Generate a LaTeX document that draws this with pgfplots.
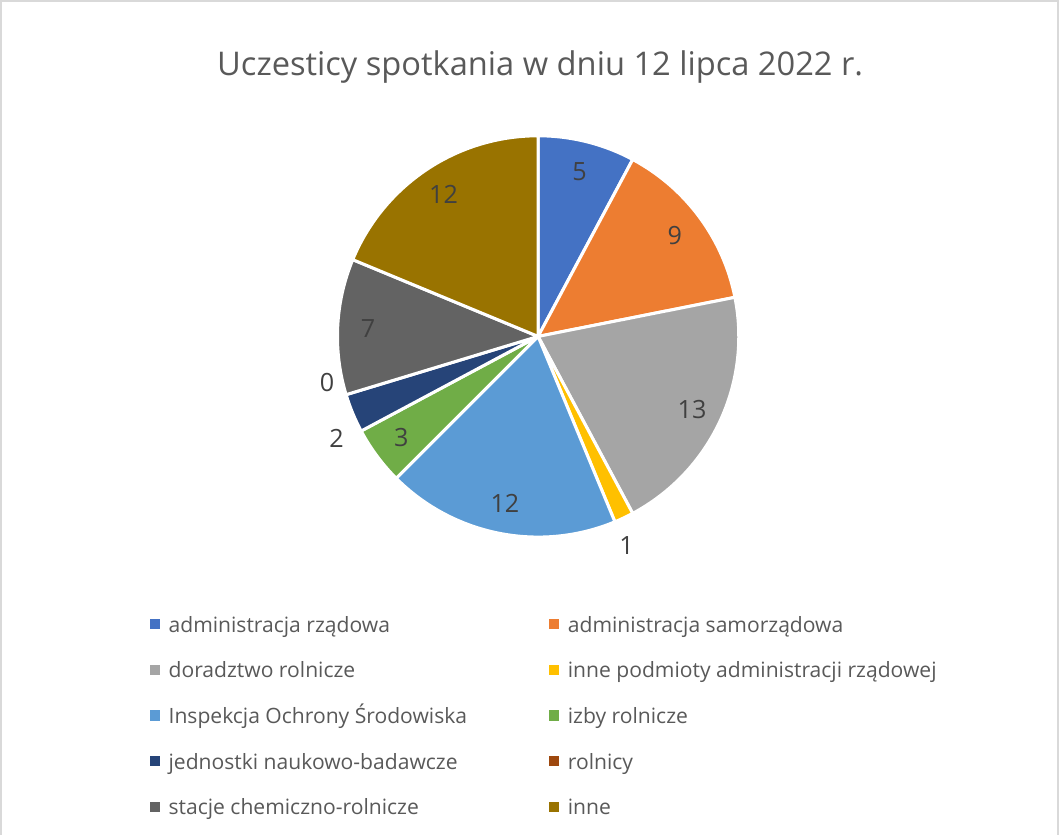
\documentclass[border=0pt]{standalone}
\usepackage{fontspec}
\setmainfont{Open Sans}
\usepackage{pgfplots}
\pgfplotsset{compat=1.18}
\definecolor{pA}{HTML}{4472C4}
\definecolor{pB}{HTML}{ED7D31}
\definecolor{pC}{HTML}{A5A5A5}
\definecolor{pD}{HTML}{FFC000}
\definecolor{pE}{HTML}{5B9BD5}
\definecolor{pF}{HTML}{70AD47}
\definecolor{pG}{HTML}{264478}
\definecolor{pH}{HTML}{9E480E}
\definecolor{pI}{HTML}{636363}
\definecolor{pJ}{HTML}{997300}
\definecolor{txt}{HTML}{595959}
\definecolor{lbl}{HTML}{404040}
\definecolor{frame}{HTML}{D9D9D9}

% value / colour / label angle / label radius (0 = default, inside) / legend text
\def\piedata{5/pA/0/0/administracja rządowa,
9/pB/0/0/administracja samorządowa,
13/pC/0/0/doradztwo rolnicze,
1/pD/-67.1/112/inne podmioty administracji rządowej,
12/pE/0/0/Inspekcja Ochrony Środowiska,
3/pF/0/0/izby rolnicze,
2/pG/206.9/111.5/jednostki naukowo-badawcze,
0/pH/192.2/106.5/rolnicy,
7/pI/0/0/stacje chemiczno-rolnicze,
12/pJ/0/0/inne}

\begin{document}
\begin{tikzpicture}
\begin{axis}[
  hide axis, scale only axis,
  width=529.5pt, height=415pt,
  xmin=0, xmax=1059, ymin=0, ymax=830,
]
% chart frame
\draw[frame, line width=1pt] (axis cs:8,-10) -- (axis cs:8,822) -- (axis cs:1051,822) -- (axis cs:1051,-10);
\node[font=\fontsize{16.1}{19}\selectfont, text=txt] at (axis cs:540,757) {Uczesticy spotkania w dniu 12 lipca 2022 r.};

% total
\xdef\tot{0}
\foreach \v/\c/\la/\lr/\nm in \piedata {
  \pgfmathsetmacro\t{\tot+\v}\xdef\tot{\t}
}
\pgfmathsetmacro\unit{360/\tot}\xdef\unit{\unit}
\xdef\cum{0}
\xdef\idx{0}
\foreach \v/\c/\la/\lr/\nm in \piedata {
  \pgfmathsetmacro\sa{90-\cum*\unit}
  \pgfmathsetmacro\ea{90-(\cum+\v)*\unit}
  \pgfmathsetmacro\ma{90-(\cum+\v/2)*\unit}
  \ifnum\v>0
    \edef\cmd{\noexpand\fill[\c, draw=white, line width=1.5pt, line join=round]
      (axis cs:538,491) -- ++(\sa:99pt) arc[start angle=\sa, end angle=\ea, radius=99pt] -- cycle;}
    \cmd
  \fi
  \ifdim\lr pt=0pt
    \edef\cmd{\noexpand\path (axis cs:538,491) ++(\ma:84pt) node[text=lbl, font=\noexpand\fontsize{12.4}{15}\noexpand\selectfont] {\v};}
  \else
    \edef\cmd{\noexpand\path (axis cs:538,491) ++(\la:\lr pt) node[text=lbl, font=\noexpand\fontsize{12.4}{15}\noexpand\selectfont] {\v};}
  \fi
  \cmd
  % legend
  \pgfmathtruncatemacro\col{mod(\idx,2)}
  \pgfmathtruncatemacro\row{div(\idx,2)}
  \pgfmathsetmacro\sx{155+394*\col}
  \pgfmathsetmacro\tx{173+394*\col}
  \pgfmathsetmacro\sy{830-(623+45*\row)}
  \pgfmathsetmacro\by{830-(631+45*\row)}
  \edef\cmd{\noexpand\fill[\c] (axis cs:\sx,\sy) ++(0,-2.5pt) rectangle ++(5pt,5pt);}
  \cmd
  \edef\cmd{\noexpand\node[anchor=base west, inner sep=0pt, text=txt, font=\noexpand\fontsize{10.4}{13}\noexpand\selectfont] at (axis cs:\tx,\by) {\nm};}
  \cmd
  \pgfmathsetmacro\t{\cum+\v}\xdef\cum{\t}
  \pgfmathtruncatemacro\t{\idx+1}\xdef\idx{\t}
}
\end{axis}
\end{tikzpicture}
\end{document}
